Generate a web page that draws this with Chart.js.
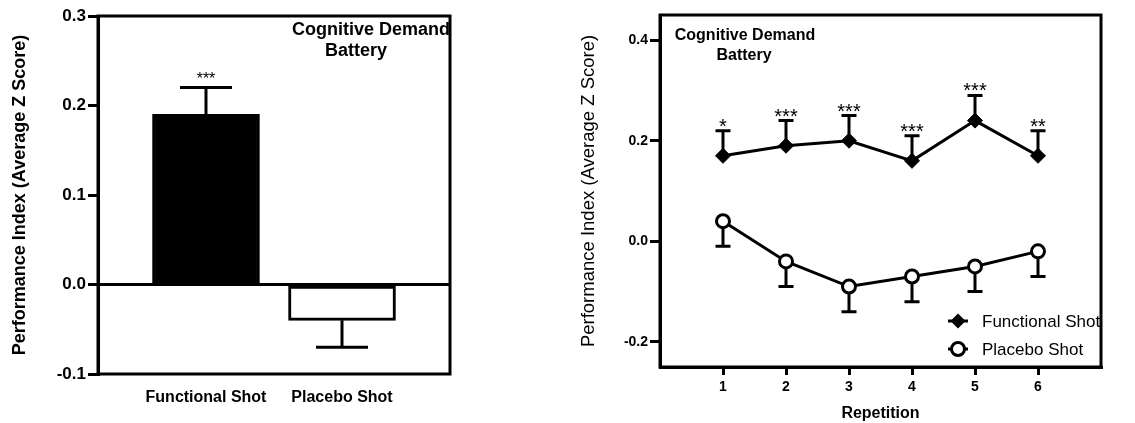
<!DOCTYPE html>
<html>
<head>
<meta charset="utf-8">
<script src="https://cdn.jsdelivr.net/npm/chart.js@4/dist/chart.umd.min.js"></script>
<style>
  body { margin: 0; background: #fff; width: 1135px; height: 423px; overflow: hidden; }
  #leftBox { position: absolute; left: 0; top: 0; width: 470px; height: 423px; }
  #rightBox { position: absolute; left: 580px; top: 0; width: 555px; height: 423px; }
</style>
</head>
<body>
<div id="leftBox"><canvas id="barChart" width="470" height="423"></canvas></div>
<div id="rightBox"><canvas id="lineChart" width="555" height="423"></canvas></div>
<script>
const FONT = "'Liberation Sans', Arial, Helvetica, sans-serif";

// left panel: overall means
const barCategories = ['Functional Shot', 'Placebo Shot'];
const barMeans = [0.19, -0.04];
const barErrors = [0.03, 0.03];
const barStars = ['***', ''];
const barColors = ['#000000', '#ffffff'];
const leftYTicks = [-0.1, 0.0, 0.1, 0.2, 0.3];

// right panel: per repetition
const repetitions = [1, 2, 3, 4, 5, 6];
const functionalMeans = [0.17, 0.19, 0.20, 0.16, 0.24, 0.17];
const functionalErrors = [0.05, 0.05, 0.05, 0.05, 0.05, 0.05];
const placeboMeans = [0.04, -0.04, -0.09, -0.07, -0.05, -0.02];
const placeboErrors = [0.05, 0.05, 0.05, 0.05, 0.05, 0.05];
const lineStars = ['*', '***', '***', '***', '***', '**'];
const rightYTicks = [-0.2, 0.0, 0.2, 0.4];
const seriesNames = ['Functional Shot', 'Placebo Shot'];

function drawErrorBar(ctx, xs, ys, xPix, yVal, err, up, halfCap) {
  const y0 = ys.getPixelForValue(yVal);
  const y1 = ys.getPixelForValue(up ? yVal + err : yVal - err);
  ctx.beginPath();
  ctx.moveTo(xPix, y0);
  ctx.lineTo(xPix, y1);
  ctx.moveTo(xPix - halfCap, y1);
  ctx.lineTo(xPix + halfCap, y1);
  ctx.stroke();
  return y1;
}

const frameLines = {
  id: 'frameLines',
  afterDraw(chart, args, opts) {
    const a = chart.chartArea;
    const ctx = chart.ctx;
    ctx.save();
    ctx.strokeStyle = '#000';
    ctx.lineWidth = 3;
    ctx.strokeRect(a.left, a.top, a.right - a.left, a.bottom - a.top);
    if (opts.zeroLine) {
      const y0 = chart.scales.y.getPixelForValue(0);
      ctx.beginPath();
      ctx.moveTo(a.left, y0);
      ctx.lineTo(a.right, y0);
      ctx.stroke();
    }
    ctx.restore();
  }
};

// ---------- left: bar chart ----------
const barPanelExtras = {
  id: 'barPanelExtras',
  afterDatasetsDraw(chart) {
    const ctx = chart.ctx;
    const xs = chart.scales.x, ys = chart.scales.y;
    const a = chart.chartArea;
    ctx.save();
    ctx.strokeStyle = '#000';
    ctx.lineWidth = 3;
    barMeans.forEach((m, i) => {
      const xp = xs.getPixelForValue(i + 1);
      const capY = drawErrorBar(ctx, xs, ys, xp, m, barErrors[i], m >= 0, 26);
      if (barStars[i]) {
        ctx.fillStyle = '#000';
        ctx.font = '16px ' + FONT;
        ctx.textAlign = 'center';
        ctx.textBaseline = 'alphabetic';
        ctx.fillText(barStars[i], xp, capY - 4);
      }
    });
    ctx.fillStyle = '#000';
    ctx.font = 'bold 18px ' + FONT;
    ctx.textAlign = 'left';
    ctx.textBaseline = 'alphabetic';
    ctx.fillText('Cognitive Demand', a.left + 194, 35);
    ctx.fillText('Battery', a.left + 227, 56);
    ctx.restore();
  }
};

new Chart('barChart', {
  type: 'bar',
  data: {
    datasets: [{
      data: barMeans.map((v, i) => ({ x: i + 1, y: v })),
      backgroundColor: barColors,
      borderColor: '#000',
      borderWidth: 3,
      borderSkipped: false,
      barThickness: 107
    }]
  },
  options: {
    responsive: false,
    animation: false,
    layout: { padding: { top: 16, right: 20, left: 0, bottom: 0 } },
    plugins: { legend: { display: false }, tooltip: { enabled: false }, frameLines: { zeroLine: true } },
    scales: {
      x: {
        type: 'linear',
        min: 0.206,
        max: 2.794,
        offset: false,
        afterBuildTicks: (s) => { s.ticks = barCategories.map((c, i) => ({ value: i + 1 })); },
        afterFit: (s) => { s.height = 49; },
        grid: { display: false, drawTicks: false },
        border: { display: false },
        ticks: {
          padding: 14,
          color: '#000',
          font: { family: FONT, size: 16, weight: 'bold' },
          callback: (v) => barCategories[Math.round(v) - 1]
        }
      },
      y: {
        min: -0.1,
        max: 0.3,
        afterBuildTicks: (s) => { s.ticks = leftYTicks.map(v => ({ value: v })); },
        afterFit: (s) => { s.width = 98; },
        grid: { drawOnChartArea: false, drawTicks: true, tickLength: 10, lineWidth: 3, color: '#000' },
        border: { display: true, width: 3, color: '#000' },
        ticks: {
          padding: 2,
          color: '#000',
          font: { family: FONT, size: 17, weight: 'bold' },
          callback: (v) => v.toFixed(1)
        },
        title: {
          display: true,
          text: 'Performance Index (Average Z Score)',
          color: '#000',
          padding: { top: 9, bottom: 0 },
          font: { family: FONT, size: 18, weight: 'bold' }
        }
      }
    }
  },
  plugins: [barPanelExtras, frameLines]
});

// ---------- right: line chart ----------
const linePanelExtras = {
  id: 'linePanelExtras',
  beforeDatasetsDraw(chart) {
    const ctx = chart.ctx;
    const xs = chart.scales.x, ys = chart.scales.y;
    ctx.save();
    ctx.strokeStyle = '#000';
    ctx.lineWidth = 3;
    repetitions.forEach((r, i) => {
      const xp = xs.getPixelForValue(r);
      const capY = drawErrorBar(ctx, xs, ys, xp, functionalMeans[i], functionalErrors[i], true, 7.5);
      drawErrorBar(ctx, xs, ys, xp, placeboMeans[i], placeboErrors[i], false, 7.5);
      ctx.fillStyle = '#000';
      ctx.font = '20px ' + FONT;
      ctx.textAlign = 'center';
      ctx.textBaseline = 'alphabetic';
      ctx.fillText(lineStars[i], xp, capY + 2);
    });
    ctx.restore();
  },
  afterDatasetsDraw(chart) {
    const ctx = chart.ctx;
    const a = chart.chartArea;
    ctx.save();
    ctx.fillStyle = '#000';
    ctx.font = 'bold 16px ' + FONT;
    ctx.textAlign = 'center';
    ctx.textBaseline = 'alphabetic';
    ctx.fillText('Cognitive Demand', a.left + 85, 40);
    ctx.fillText('Battery', a.left + 84, 60);

    // legend
    const lx = a.left + 298, tx = a.left + 322;
    const rows = [a.top + 306, a.top + 334];
    ctx.strokeStyle = '#000';
    ctx.lineWidth = 3;
    rows.forEach((y, i) => {
      ctx.beginPath();
      ctx.moveTo(lx - 10, y);
      ctx.lineTo(lx + 10, y);
      ctx.stroke();
      ctx.beginPath();
      if (i === 0) {
        ctx.moveTo(lx, y - 7.5); ctx.lineTo(lx + 7.5, y); ctx.lineTo(lx, y + 7.5); ctx.lineTo(lx - 7.5, y);
        ctx.closePath();
        ctx.fillStyle = '#000';
        ctx.fill();
      } else {
        ctx.arc(lx, y, 6.5, 0, Math.PI * 2);
        ctx.fillStyle = '#fff';
        ctx.fill();
        ctx.stroke();
      }
      ctx.fillStyle = '#000';
      ctx.font = '17px ' + FONT;
      ctx.textAlign = 'left';
      ctx.textBaseline = 'middle';
      ctx.fillText(seriesNames[i], tx, y + 1);
    });
    ctx.restore();
  }
};

new Chart('lineChart', {
  type: 'line',
  data: {
    datasets: [{
      label: seriesNames[0],
      data: repetitions.map((r, i) => ({ x: r, y: functionalMeans[i] })),
      borderColor: '#000',
      borderWidth: 3,
      backgroundColor: '#000',
      pointStyle: 'rectRot',
      pointRadius: 7.5,
      pointBorderWidth: 1,
      tension: 0
    }, {
      label: seriesNames[1],
      data: repetitions.map((r, i) => ({ x: r, y: placeboMeans[i] })),
      borderColor: '#000',
      borderWidth: 3,
      backgroundColor: '#fff',
      pointStyle: 'circle',
      pointRadius: 6.5,
      pointBorderWidth: 3,
      tension: 0
    }]
  },
  options: {
    responsive: false,
    animation: false,
    layout: { padding: { top: 15, right: 34, left: 0, bottom: 0 } },
    plugins: { legend: { display: false }, tooltip: { enabled: false }, frameLines: { zeroLine: false } },
    scales: {
      x: {
        type: 'linear',
        min: 0,
        max: 7,
        afterBuildTicks: (s) => { s.ticks = repetitions.map(v => ({ value: v })); },
        afterFit: (s) => { s.height = 56; },
        grid: { drawOnChartArea: false, drawTicks: true, tickLength: 8, lineWidth: 3, color: '#000' },
        border: { display: true, width: 3, color: '#000' },
        ticks: {
          padding: 4,
          color: '#000',
          font: { family: FONT, size: 14, weight: 'bold' },
          callback: (v) => String(v)
        },
        title: {
          display: true,
          text: 'Repetition',
          color: '#000',
          padding: { top: 3, bottom: 0 },
          font: { family: FONT, size: 16, weight: 'bold' }
        }
      },
      y: {
        min: -0.25,
        max: 0.45,
        afterBuildTicks: (s) => { s.ticks = rightYTicks.map(v => ({ value: v })); },
        afterFit: (s) => { s.width = 80; },
        grid: { drawOnChartArea: false, drawTicks: true, tickLength: 10, lineWidth: 3, color: '#000' },
        border: { display: true, width: 3, color: '#000' },
        ticks: {
          padding: 2,
          color: '#000',
          font: { family: FONT, size: 14, weight: 'bold' },
          callback: (v) => v.toFixed(1)
        },
        title: {
          display: true,
          text: 'Performance Index (Average Z Score)',
          color: '#000',
          padding: { top: 0, bottom: 0 },
          font: { family: FONT, size: 18.5, lineHeight: 1.0 }
        }
      }
    }
  },
  plugins: [linePanelExtras, frameLines]
});
</script>
</body>
</html>
